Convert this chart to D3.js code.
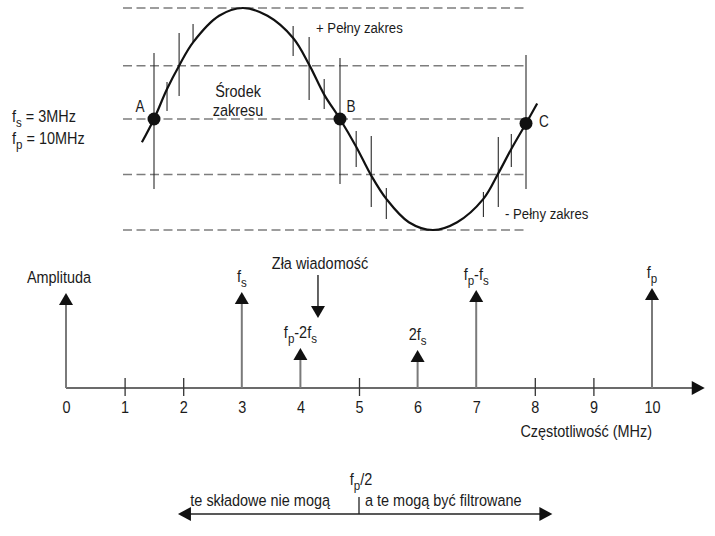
<!DOCTYPE html>
<html><head><meta charset="utf-8">
<script src="https://cdn.jsdelivr.net/npm/d3@7"></script>
<style>
html,body{margin:0;padding:0;background:#fff;}
svg text{font-family:"Liberation Sans","Arimo",Arial,sans-serif;fill:#1b1b1b;white-space:pre;}
</style></head><body>
<svg id="c" width="715" height="536"></svg>
<script>
// ---------- Top panel: sampled sine (time in half-periods, value in full-scale units) ----------
const levelValues = [1, 0.48, 0, -0.5, -1];
const curveT = [-0.065, 0, 0.07, 0.135, 0.21, 0.35, 0.478, 0.61, 0.748, 0.834, 0.915, 1, 1.087, 1.168, 1.249, 1.37, 1.5, 1.63, 1.771, 1.851, 1.921, 2, 2.06];
const curveV = [-0.21, 0, 0.27, 0.48, 0.69, 0.93, 1, 0.93, 0.73, 0.49, 0.22, 0, -0.25, -0.51, -0.72, -0.93, -1, -0.93, -0.72, -0.49, -0.27, -0.04, 0.14];
const markT      = [0, 0.07, 0.135, 0.21, 0.748, 0.834, 0.915, 1, 1.087, 1.168, 1.249, 1.771, 1.851, 1.921, 2];
const markTop    = [0.595, 0.333, 0.775, 0.856, 0.838, 0.739, 0.36, 0.55, -0.108, -0.153, -0.622, -0.658, -0.162, -0.135, 0.577];
const markBottom = [-0.63, 0.072, 0.207, 0.685, 0.568, 0.171, 0.09, -0.585, -0.432, -0.793, -0.9, -0.883, -0.793, -0.432, -0.63];
const pointNames = ["A", "B", "C"];
const pointT = [0, 1, 2];
const pointV = [0, 0, -0.04];

// ---------- Bottom panel: spectrum ----------
const axisTicks = [0, 1, 2, 3, 4, 5, 6, 7, 8, 9, 10];
const lineFreqs = [0, 3, 4, 6, 7, 10];
const lineAmps = [0.95, 0.96, 0.40, 0.38, 0.98, 1.0];
const lineLabels = ["Amplituda", "f_s", "f_p-2f_s", "2f_s", "f_p-f_s", "f_p"];
const badFreq = 4.3, badFrom = 1.13, badTo = 0.70;
const nyquist = 5, rangeFrom = 1.91, rangeTo = 8.3;

const FONT = 17;
const SX = 0.85; // condensed look
const svg = d3.select("#c");

function segs(str) {
  const out = []; let cur = "";
  for (let i = 0; i < str.length; i++) {
    if (str[i] === "_") { if (cur) { out.push({t: cur, s: false}); cur = ""; } out.push({t: str[i + 1], s: true}); i++; }
    else cur += str[i];
  }
  if (cur) out.push({t: cur, s: false});
  return out;
}
function rich(g, str, x, y, anchor, size) {
  size = size || FONT;
  const sub = Math.round(size * 0.28);
  const gg = g.append("g").attr("transform", `translate(${x},${y}) scale(${SX},1)`);
  const t = gg.append("text").attr("x", 0).attr("y", 0)
    .attr("text-anchor", anchor || "start").style("font-size", size + "px");
  let down = false;
  segs(str).forEach(sg => {
    const ts = t.append("tspan").text(sg.t);
    if (sg.s) { ts.style("font-size", (size * 0.8) + "px"); if (!down) ts.attr("dy", sub); down = true; }
    else if (down) { ts.attr("dy", -sub); down = false; }
  });
  return t;
}

// ----- top panel -----
const xS = d3.scaleLinear().domain([0, 2]).range([154, 526]);
const yS = d3.scaleLinear().domain([-1, 1]).range([230, 8]);
const topG = svg.append("g");

topG.selectAll("line.lvl").data(levelValues).join("line").attr("class", "lvl")
  .attr("x1", 123).attr("x2", 528)
  .attr("y1", d => yS(d)).attr("y2", d => yS(d))
  .attr("stroke", "#7d7d7d").attr("stroke-width", 1.6).attr("stroke-dasharray", "9,4.5");

topG.selectAll("line.mk").data(markT).join("line").attr("class", "mk")
  .attr("x1", d => xS(d)).attr("x2", d => xS(d))
  .attr("y1", (d, i) => yS(markTop[i])).attr("y2", (d, i) => yS(markBottom[i]))
  .attr("stroke", "#2a2a2a").attr("stroke-width", 1.1);

const curvePts = curveT.map((t, i) => [t, curveV[i]]);
topG.append("path").datum(curvePts)
  .attr("d", d3.line().x(d => xS(d[0])).y(d => yS(d[1])).curve(d3.curveCatmullRom.alpha(0.5)))
  .attr("fill", "none").attr("stroke", "#111").attr("stroke-width", 2.2);

topG.selectAll("circle").data(pointT).join("circle")
  .attr("cx", d => xS(d)).attr("cy", (d, i) => yS(pointV[i])).attr("r", 6.5).attr("fill", "#111");

const ptLabelDx = [-14, 11, 18], ptLabelY = [112, 112, 127];
pointNames.forEach((n, i) => rich(topG, n, xS(pointT[i]) + ptLabelDx[i], ptLabelY[i], "middle", 16));

rich(topG, "+ Pełny zakres", 316, 33, "start", 15.5);
rich(topG, "- Pełny zakres", 505, 219, "start", 15.5);
rich(topG, "Środek", 238, 97, "middle", 17);
rich(topG, "zakresu", 238, 116, "middle", 17);
rich(topG, "f_s = 3MHz", 12, 122, "start", 17);
rich(topG, "f_p = 10MHz", 12, 144, "start", 17);

// ----- spectrum panel -----
const xF = d3.scaleLinear().domain([0, 10]).range([66, 652]);
const yA = d3.scaleLinear().domain([0, 1]).range([388, 288]);
const spG = svg.append("g");

const ax = spG.append("g").attr("transform", `translate(0,${yA(0)})`)
  .call(d3.axisBottom(xF).tickValues(axisTicks).tickSizeInner(8).tickSizeOuter(0).tickPadding(5).tickFormat(d3.format("d")));
ax.attr("font-family", null).attr("font-size", null);
ax.select(".domain").remove();
ax.selectAll(".tick line").attr("y1", -10).attr("stroke", "#333").attr("stroke-width", 1.3)
  .style("display", d => lineFreqs.includes(d) ? "none" : null);
ax.selectAll(".tick text").style("font-size", FONT + "px").attr("transform", `scale(${SX},1)`);

const axEnd = xF(10.9);
spG.append("line").attr("x1", xF(0)).attr("x2", axEnd - 12).attr("y1", yA(0)).attr("y2", yA(0))
  .attr("stroke", "#3a3a3a").attr("stroke-width", 1.6);
spG.append("path").attr("d", `M${axEnd},${yA(0)}L${axEnd - 13},${yA(0) - 7}L${axEnd - 13},${yA(0) + 7}Z`).attr("fill", "#111");

spG.selectAll("line.stem").data(lineFreqs).join("line").attr("class", "stem")
  .attr("x1", d => xF(d)).attr("x2", d => xF(d))
  .attr("y1", yA(0)).attr("y2", (d, i) => yA(lineAmps[i]) + 10)
  .attr("stroke", "#7a7a7a").attr("stroke-width", 2);
spG.selectAll("path.head").data(lineFreqs).join("path").attr("class", "head")
  .attr("d", (d, i) => { const x = xF(d), y = yA(lineAmps[i]); return `M${x},${y}L${x - 7},${y + 12}L${x + 7},${y + 12}Z`; })
  .attr("fill", "#111");
const labelDx = [-7, 0, 0, 0, 0, 0];
lineLabels.forEach((lb, i) => {
  rich(spG, lb, xF(lineFreqs[i]) + labelDx[i], yA(lineAmps[i]) - 10, "middle", FONT);
});

// bad-news arrow
const bx = xF(badFreq);
spG.append("line").attr("x1", bx).attr("x2", bx).attr("y1", yA(badFrom)).attr("y2", yA(badTo) - 10)
  .attr("stroke", "#222").attr("stroke-width", 1.4);
spG.append("path").attr("d", `M${bx},${yA(badTo)}L${bx - 7},${yA(badTo) - 12}L${bx + 7},${yA(badTo) - 12}Z`).attr("fill", "#111");
rich(spG, "Zła wiadomość", bx + 2, 269, "middle", FONT);

rich(spG, "Częstotliwość (MHz)", xF(10), 437, "end", FONT);

// ----- Nyquist band -----
const nG = svg.append("g");
const yN = 514;
const xl = xF(rangeFrom), xr = xF(rangeTo), xm = xF(nyquist);
nG.append("line").attr("x1", xl + 10).attr("x2", xr - 10).attr("y1", yN).attr("y2", yN).attr("stroke", "#222").attr("stroke-width", 1.6);
nG.append("path").attr("d", `M${xl},${yN}L${xl + 13},${yN - 7}L${xl + 13},${yN + 7}Z`).attr("fill", "#111");
nG.append("path").attr("d", `M${xr},${yN}L${xr - 13},${yN - 7}L${xr - 13},${yN + 7}Z`).attr("fill", "#111");
nG.append("line").attr("x1", xm).attr("x2", xm).attr("y1", 497).attr("y2", yN).attr("stroke", "#222").attr("stroke-width", 1.3);
rich(nG, "f_p/2", xm + 2, 485, "middle", FONT);
rich(nG, "te składowe nie mogą", xm - 29, 506, "end", FONT);
rich(nG, "a te mogą być filtrowane", xm + 6, 506, "start", FONT);
</script>
</body></html>
